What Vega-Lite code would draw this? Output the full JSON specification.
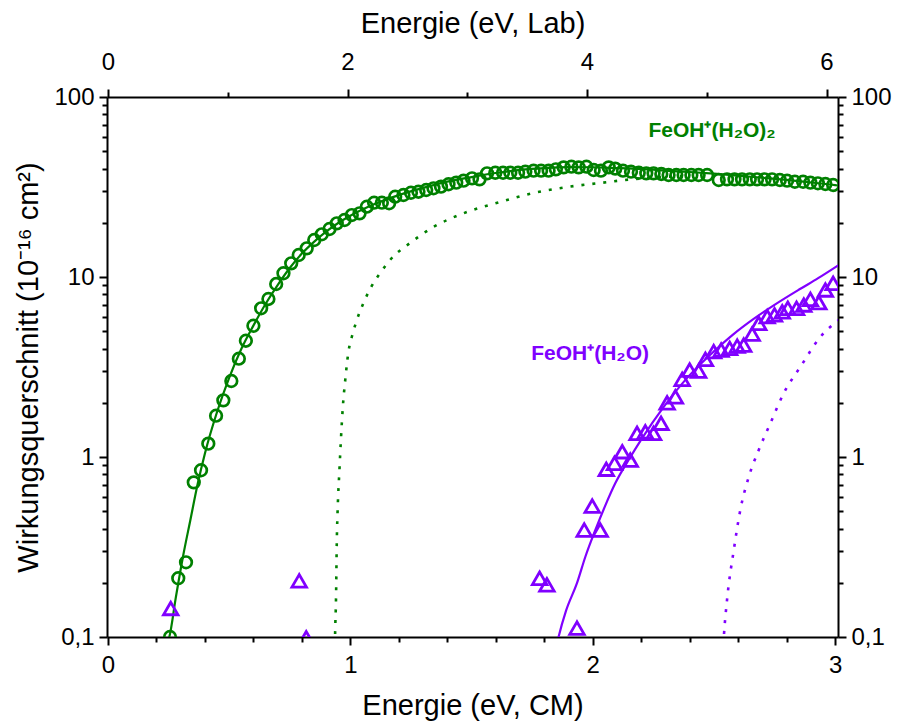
{
  "$schema": "https://vega.github.io/schema/vega-lite/v6.json",
  "width": 731,
  "height": 540,
  "autosize": {"type": "none"},
  "padding": {"left": 107, "top": 97, "right": 61, "bottom": 86},
  "background": "white",
  "config": {
    "view": {"stroke": null},
    "font": "Liberation Sans",
    "axis": {
      "grid": false,
      "domainColor": "black",
      "domainWidth": 2,
      "tickColor": "black",
      "tickWidth": 2,
      "labelColor": "black",
      "labelFont": "Liberation Sans",
      "labelFontSize": 24,
      "labelFlush": false,
      "labelOverlap": false,
      "labelBound": false,
      "titleFont": "Liberation Sans",
      "titleFontSize": 29,
      "titleFontWeight": "normal",
      "titleColor": "black"
    }
  },
  "datasets": {
    "greenPts": [
      {"e":0.256,"v":0.100},{"e":0.290,"v":0.212},{"e":0.322,"v":0.260},{"e":0.354,"v":0.723},{"e":0.384,"v":0.844},{"e":0.414,"v":1.186},{"e":0.446,"v":1.696},{"e":0.476,"v":2.065},{"e":0.509,"v":2.644},{"e":0.540,"v":3.516},{"e":0.569,"v":4.426},{"e":0.600,"v":5.36},{"e":0.632,"v":6.70},{"e":0.662,"v":7.55},{"e":0.694,"v":9.14},{"e":0.724,"v":10.49},{"e":0.756,"v":11.91},{"e":0.787,"v":13.25},{"e":0.820,"v":14.43},{"e":0.851,"v":16.05},{"e":0.882,"v":17.27},{"e":0.914,"v":18.48},{"e":0.944,"v":19.87},{"e":0.976,"v":20.73},{"e":1.006,"v":22.09},{"e":1.038,"v":22.58},{"e":1.068,"v":24.58},{"e":1.098,"v":25.87},{"e":1.130,"v":25.87},{"e":1.160,"v":25.67},{"e":1.185,"v":27.93},{"e":1.219,"v":28.55},{"e":1.250,"v":29.39},{"e":1.281,"v":29.77},{"e":1.313,"v":30.42},{"e":1.343,"v":31.1},{"e":1.374,"v":31.75},{"e":1.405,"v":32.74},{"e":1.437,"v":33.42},{"e":1.467,"v":34.28},{"e":1.502,"v":35.33},{"e":1.533,"v":34.89},{"e":1.564,"v":37.67},{"e":1.598,"v":37.95},{"e":1.630,"v":37.95},{"e":1.660,"v":37.95},{"e":1.692,"v":37.95},{"e":1.722,"v":38.46},{"e":1.756,"v":38.96},{"e":1.787,"v":38.96},{"e":1.818,"v":38.96},{"e":1.848,"v":39.65},{"e":1.880,"v":40.65},{"e":1.912,"v":41.0},{"e":1.942,"v":40.65},{"e":1.974,"v":41.0},{"e":2.004,"v":39.3},{"e":2.034,"v":38.96},{"e":2.066,"v":40.65},{"e":2.093,"v":40.0},{"e":2.125,"v":38.96},{"e":2.158,"v":38.46},{"e":2.190,"v":37.95},{"e":2.221,"v":37.67},{"e":2.251,"v":37.67},{"e":2.283,"v":37.36},{"e":2.313,"v":36.87},{"e":2.345,"v":36.87},{"e":2.375,"v":36.87},{"e":2.407,"v":36.87},{"e":2.437,"v":36.87},{"e":2.472,"v":36.87},{"e":2.520,"v":34.59},{"e":2.554,"v":34.89},{"e":2.585,"v":34.89},{"e":2.616,"v":34.89},{"e":2.648,"v":34.89},{"e":2.678,"v":34.89},{"e":2.709,"v":34.89},{"e":2.740,"v":34.89},{"e":2.772,"v":34.59},{"e":2.802,"v":34.28},{"e":2.834,"v":33.82},{"e":2.868,"v":33.82},{"e":2.898,"v":33.42},{"e":2.929,"v":33.16},{"e":2.960,"v":32.86},{"e":2.992,"v":32.45}
    ],
    "greenFit": [
      {"e":0.250,"v":0.097},{"e":0.253,"v":0.1},{"e":0.28,"v":0.166},{"e":0.31,"v":0.282},{"e":0.34,"v":0.447},{"e":0.37,"v":0.708},{"e":0.40,"v":1.047},{"e":0.45,"v":1.778},{"e":0.50,"v":2.754},{"e":0.55,"v":3.98},{"e":0.60,"v":5.37},{"e":0.65,"v":7.08},{"e":0.70,"v":9.02},{"e":0.75,"v":11.22},{"e":0.80,"v":13.49},{"e":0.85,"v":15.67},{"e":0.90,"v":17.86},{"e":0.95,"v":19.95},{"e":1.0,"v":21.88},{"e":1.1,"v":25.41},{"e":1.2,"v":28.51},{"e":1.3,"v":31.26},{"e":1.4,"v":33.88},{"e":1.5,"v":35.89},{"e":1.6,"v":37.84},{"e":1.7,"v":39.36},{"e":1.8,"v":40.27},{"e":1.9,"v":40.74},{"e":2.0,"v":40.7},{"e":2.1,"v":40.3},{"e":2.2,"v":39.8},{"e":2.3,"v":39.0},{"e":2.4,"v":38.3},{"e":2.5,"v":37.5},{"e":2.6,"v":36.6},{"e":2.7,"v":35.6},{"e":2.8,"v":34.6},{"e":2.9,"v":33.5},{"e":3.0,"v":32.4},{"e":3.015,"v":32.2}
    ],
    "greenDot": [
      {"e":0.9365,"v":0.09},{"e":0.937,"v":0.1},{"e":0.941,"v":0.167},{"e":0.944,"v":0.333},{"e":0.948,"v":0.527},{"e":0.955,"v":0.847},{"e":0.961,"v":1.243},{"e":0.969,"v":1.896},{"e":0.979,"v":2.68},{"e":0.992,"v":3.83},{"e":1.007,"v":4.70},{"e":1.024,"v":5.62},{"e":1.054,"v":7.17},{"e":1.086,"v":8.80},{"e":1.123,"v":10.52},{"e":1.192,"v":13.59},{"e":1.219,"v":14.49},{"e":1.343,"v":18.96},{"e":1.481,"v":22.96},{"e":1.618,"v":26.1},{"e":1.756,"v":29.3},{"e":1.894,"v":31.6},{"e":2.031,"v":33.3},{"e":2.169,"v":35.0},{"e":2.279,"v":35.9},{"e":2.403,"v":36.6}
    ],
    "purplePts": [
      {"e":0.259,"v":0.144},{"e":0.789,"v":0.205},{"e":0.818,"v":0.099},{"e":1.781,"v":0.212},{"e":1.811,"v":0.195},{"e":1.935,"v":0.112},{"e":1.965,"v":0.393},{"e":1.998,"v":0.534},{"e":2.031,"v":0.393},{"e":2.056,"v":0.855},{"e":2.090,"v":0.923},{"e":2.122,"v":1.07},{"e":2.155,"v":0.962},{"e":2.183,"v":1.354},{"e":2.217,"v":1.38},{"e":2.251,"v":1.354},{"e":2.282,"v":1.54},{"e":2.307,"v":2.0},{"e":2.341,"v":2.16},{"e":2.369,"v":2.70},{"e":2.400,"v":3.04},{"e":2.437,"v":3.0},{"e":2.465,"v":3.49},{"e":2.499,"v":3.85},{"e":2.530,"v":3.93},{"e":2.565,"v":4.01},{"e":2.596,"v":4.13},{"e":2.623,"v":4.19},{"e":2.658,"v":4.82},{"e":2.685,"v":5.53},{"e":2.720,"v":6.02},{"e":2.750,"v":6.16},{"e":2.782,"v":6.41},{"e":2.805,"v":6.7},{"e":2.841,"v":6.7},{"e":2.871,"v":6.99},{"e":2.898,"v":7.51},{"e":2.933,"v":7.2},{"e":2.960,"v":8.47},{"e":2.992,"v":9.23}
    ],
    "purpleFit": [
      {"e":1.855,"v":0.095},{"e":1.859,"v":0.1},{"e":1.89,"v":0.14},{"e":1.935,"v":0.199},{"e":1.97,"v":0.28},{"e":2.011,"v":0.393},{"e":2.05,"v":0.53},{"e":2.093,"v":0.714},{"e":2.148,"v":0.962},{"e":2.2,"v":1.25},{"e":2.293,"v":1.90},{"e":2.4,"v":2.85},{"e":2.499,"v":3.85},{"e":2.58,"v":4.8},{"e":2.664,"v":5.85},{"e":2.75,"v":7.0},{"e":2.857,"v":8.6},{"e":2.93,"v":9.85},{"e":3.015,"v":11.66}
    ],
    "purpleDot": [
      {"e":2.539,"v":0.09},{"e":2.541,"v":0.1},{"e":2.554,"v":0.16},{"e":2.582,"v":0.304},{"e":2.609,"v":0.508},{"e":2.644,"v":0.777},{"e":2.685,"v":1.093},{"e":2.733,"v":1.54},{"e":2.788,"v":2.26},{"e":2.857,"v":3.17},{"e":2.940,"v":4.66},{"e":3.015,"v":5.77}
    ],
    "greenLabel": [{"e":2.23,"v":59.9,"t":"FeOH⁺(H₂O)₂"}],
    "purpleLabel": [{"e":1.746,"v":3.46,"t":"FeOH⁺(H₂O)"}],
    "labAxis": [{"lab":0,"v":1},{"lab":6,"v":1}]
  },
  "layer": [
    {
      "encoding": {
        "x": {
          "field": "e", "type": "quantitative",
          "scale": {"domain": [-0.004, 3.012], "nice": false, "zero": false},
          "axis": {
            "orient": "bottom",
            "title": "Energie (eV, CM)",
            "titlePadding": 14,
            "values": [0,0.2,0.4,0.6,0.8,1,1.2,1.4,1.6,1.8,2,2.2,2.4,2.6,2.8,3],
            "labelExpr": "abs(datum.value - round(datum.value)) < 0.001 ? format(datum.value, 'd') : ''",
            "labelPadding": 8,
            "tickSize": {"condition": {"test": "abs(datum.value - round(datum.value)) < 0.001", "value": 8}, "value": 5}
          }
        },
        "y": {
          "field": "v", "type": "quantitative",
          "scale": {"type": "log", "domain": [0.1, 100], "nice": false},
          "axis": {
            "orient": "left",
            "title": "Wirkungsquerschnitt (10⁻¹⁶ cm²)",
            "titlePadding": 10,
            "values": [0.1,0.2,0.3,0.4,0.5,0.6,0.7,0.8,0.9,1,2,3,4,5,6,7,8,9,10,20,30,40,50,60,70,80,90,100],
            "labelExpr": "abs(log(datum.value)/LN10 - round(log(datum.value)/LN10)) < 0.001 ? (datum.value < 0.5 ? '0,1' : format(datum.value, 'd')) : ''",
            "labelPadding": 5,
            "tickSize": {"condition": {"test": "abs(log(datum.value)/LN10 - round(log(datum.value)/LN10)) < 0.001", "value": 8}, "value": 5}
          }
        }
      },
      "layer": [
        {"data": {"name": "greenDot"}, "mark": {"type": "line", "interpolate": "monotone", "color": "#008000", "strokeWidth": 2.6, "strokeDash": [3, 8], "clip": true}},
        {"data": {"name": "purpleDot"}, "mark": {"type": "line", "interpolate": "monotone", "color": "#8000ff", "strokeWidth": 2.6, "strokeDash": [3, 8], "clip": true}},
        {"data": {"name": "greenFit"}, "mark": {"type": "line", "interpolate": "monotone", "color": "#008000", "strokeWidth": 2.2, "clip": true}},
        {"data": {"name": "purpleFit"}, "mark": {"type": "line", "interpolate": "monotone", "color": "#8000ff", "strokeWidth": 2.2, "clip": true}},
        {"data": {"name": "greenPts"}, "mark": {"type": "point", "shape": "circle", "filled": false, "color": "#008000", "size": 135, "strokeWidth": 2.7, "opacity": 1, "clip": true}},
        {"data": {"name": "purplePts"}, "mark": {"type": "point", "shape": "triangle-up", "filled": false, "color": "#8000ff", "size": 210, "strokeWidth": 2.8, "opacity": 1, "clip": true}},
        {"data": {"name": "greenLabel"}, "mark": {"type": "text", "align": "left", "baseline": "alphabetic", "fontSize": 21, "fontWeight": "bold", "font": "Liberation Sans", "color": "#008000"}, "encoding": {"text": {"field": "t"}}},
        {"data": {"name": "purpleLabel"}, "mark": {"type": "text", "align": "left", "baseline": "alphabetic", "fontSize": 21, "fontWeight": "bold", "font": "Liberation Sans", "color": "#8000ff"}, "encoding": {"text": {"field": "t"}}}
      ]
    },
    {
      "data": {"name": "labAxis"},
      "mark": {"type": "point", "opacity": 0},
      "encoding": {
        "x": {
          "field": "lab", "type": "quantitative",
          "scale": {"domain": [-0.0084, 6.096], "nice": false, "zero": false},
          "axis": {
            "orient": "top",
            "title": "Energie (eV, Lab)",
            "titlePadding": 12,
            "values": [0,1,2,3,4,5,6],
            "labelExpr": "datum.value % 2 == 0 ? format(datum.value, 'd') : ''",
            "labelPadding": 15,
            "tickSize": {"condition": {"test": "datum.value % 2 == 0", "value": 8}, "value": 5}
          }
        },
        "y": {
          "field": "v", "type": "quantitative",
          "scale": {"type": "log", "domain": [0.1, 100], "nice": false},
          "axis": {
            "orient": "right",
            "title": null,
            "values": [0.1,0.2,0.3,0.4,0.5,0.6,0.7,0.8,0.9,1,2,3,4,5,6,7,8,9,10,20,30,40,50,60,70,80,90,100],
            "labelExpr": "abs(log(datum.value)/LN10 - round(log(datum.value)/LN10)) < 0.001 ? (datum.value < 0.5 ? '0,1' : format(datum.value, 'd')) : ''",
            "labelPadding": 5,
            "tickSize": {"condition": {"test": "abs(log(datum.value)/LN10 - round(log(datum.value)/LN10)) < 0.001", "value": 8}, "value": 5}
          }
        }
      }
    }
  ],
  "resolve": {"scale": {"x": "independent", "y": "independent"}, "axis": {"x": "independent", "y": "independent"}}
}
